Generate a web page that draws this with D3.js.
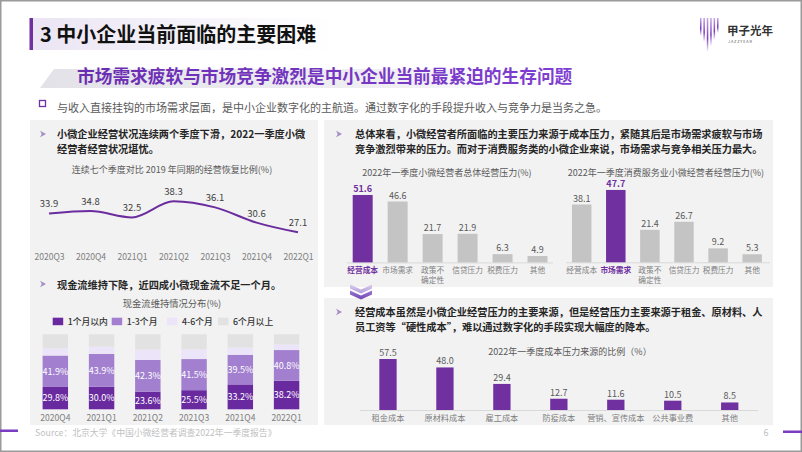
<!DOCTYPE html>
<html><head><meta charset="utf-8">
<script src="https://cdn.jsdelivr.net/npm/d3@7"></script>
<style>
html,body{margin:0;padding:0;background:#fff;}
svg{display:block;font-family:"Noto Sans CJK SC","Microsoft YaHei",sans-serif;}
</style></head><body>
<svg id="c" width="802" height="452"></svg>
<script>
// ---------- DATA ----------
const lineQuarters = ["2020Q3","2020Q4","2021Q1","2021Q2","2021Q3","2021Q4","2022Q1"];
const lineValues = [33.9,34.8,32.5,38.3,36.1,30.6,27.1];

const cashQuarters = ["2020Q4","2021Q1","2021Q2","2021Q3","2021Q4","2022Q1"];
const cashSeries = ["1个月以内","1-3个月","4-6个月","6个月以上"];
const cashWithin1 = [29.8,30.0,23.6,25.5,33.2,38.2];
const cash1to3 = [41.9,43.9,42.3,41.5,39.5,40.8];
const cash4to6 = [9.5,9.6,13.7,13.0,9.5,7.6];
const cashOver6 = [18.8,16.5,20.4,20.0,17.8,13.4];

const pressureCats = ["经营成本","市场需求","政策不\n确定性","信贷压力","税费压力","其他"];
const pressureOverall = [51.6,46.6,21.7,21.9,6.3,4.9];
const pressureConsumer = [38.1,47.7,21.4,26.7,9.2,5.3];
const overallHighlight = "经营成本";
const consumerHighlight = "市场需求";

const costCats = ["租金成本","原材料成本","雇工成本","防疫成本","营销、宣传成本","公共事业费","其他"];
const costValues = [57.5,48.0,29.4,12.7,11.6,10.5,8.5];

// ---------- SETUP ----------
const PURPLE = "#7030A0";
const svg = d3.select("#c");
const defs = svg.append("defs");
function lin(id, stops, attrs) {
  const g = defs.append("linearGradient").attr("id", id);
  Object.entries(attrs || {}).forEach(([k,v]) => g.attr(k, v));
  stops.forEach(s => g.append("stop").attr("offset", s[0]).attr("stop-color", s[1]).attr("stop-opacity", s[2] == null ? 1 : s[2]));
}
lin("titleBg", [["0%","#ebe5f4"],["100%","#ffffff"]]);
lin("subBand", [["0%","#e2e2e8"],["70%","#f1f1f4"],["100%","#ffffff",0]]);
lin("subText", [["0%","#6a2db0"],["100%","#7f3fd2"]], {gradientUnits:"userSpaceOnUse", x1:77, x2:573, y1:0, y2:0});
lin("logoLine", [["0%","#c9a6e8"],["60%","#7a3cc0"],["100%","#7a3cc0",0]], {x1:0,x2:0,y1:0,y2:1});
lin("chevTop", [["0%","#d9cdef"],["100%","#b29ad9"]], {x1:0,x2:0,y1:0,y2:1});
lin("chevBot", [["0%","#9a7bd0"],["100%","#6f45b5"]], {x1:0,x2:0,y1:0,y2:1});

function txt(parent, x, y, s, size, color, weight, anchor) {
  return parent.append("text").attr("x", x).attr("y", y).text(s)
    .attr("font-size", size).attr("fill", color)
    .attr("font-weight", weight || "normal").attr("text-anchor", anchor || "start");
}
function arrow(x, y) {
  svg.append("path").attr("d", `M${x},${y-3.2} L${x+6},${y} L${x},${y+3.2} L${x+1.8},${y} Z`).attr("fill", "#a38bc6");
}

// frame
svg.append("rect").attr("x",0).attr("y",0).attr("width",802).attr("height",452).attr("fill","#fff");
svg.append("rect").attr("x",0.75).attr("y",0.75).attr("width",800.5).attr("height",450.5)
  .attr("fill","none").attr("stroke","#9a9a9a").attr("stroke-width",1.5);

// ---------- HEADER ----------
svg.append("rect").attr("x",33).attr("y",18).attr("width",300).attr("height",32).attr("fill","url(#titleBg)");
svg.append("rect").attr("x",29.5).attr("y",18).attr("width",3.5).attr("height",32).attr("fill",PURPLE);
txt(svg, 40, 42, "3 中小企业当前面临的主要困难", 20, "#111", "bold");

svg.append("path").attr("d","M40,88 L54,69 L585,69 L572,88 Z").attr("fill","url(#subBand)");
txt(svg, 77, 83, "市场需求疲软与市场竞争激烈是中小企业当前最紧迫的生存问题", 17.7, "url(#subText)", "bold");

svg.append("rect").attr("x",39.5).attr("y",100.5).attr("width",6).attr("height",6).attr("fill","none").attr("stroke",PURPLE).attr("stroke-width",1.3);
txt(svg, 57, 112, "与收入直接挂钩的市场需求层面，是中小企业数字化的主航道。通过数字化的手段提升收入与竞争力是当务之急。", 11, "#595959");

// logo
const logoH = [18, 24, 34, 28, 22, 15];
logoH.forEach((h,i) => {
  svg.append("rect").attr("x", 700 + i*3.4).attr("y", 18).attr("width", 1.5).attr("height", h).attr("fill","url(#logoLine)");
});
txt(svg, 727, 35, "甲子光年", 11.5, "#333", "bold");
txt(svg, 728, 43, "J A Z Z Y E A R", 3.8, "#555");

// ---------- PANELS ----------
svg.append("rect").attr("x",30).attr("y",120).attr("width",288).attr("height",305).attr("fill","#f2f2f2");
svg.append("rect").attr("x",324).attr("y",120).attr("width",449).attr("height",167).attr("fill","#f2f2f2");
svg.append("rect").attr("x",324).attr("y",298).attr("width",449).attr("height",127).attr("fill","#f2f2f2");

// ---------- LEFT TOP: LINE ----------
arrow(40, 134);
txt(svg, 57, 138, "小微企业经营状况连续两个季度下滑，2022一季度小微", 10.2, "#262626", "bold");
txt(svg, 57, 153, "经营者经营状况堪忧。", 10.2, "#262626", "bold");
txt(svg, 172, 173, "连续七个季度对比 2019 年同期的经营恢复比例(%)", 9, "#595959", "normal", "middle");

const xL = d3.scalePoint().domain(lineQuarters).range([49, 298]);
const yL = d3.scaleLinear().domain([20, 40]).range([252, 196.6]);
svg.append("path").datum(lineValues)
  .attr("d", d3.line().x((d,i) => xL(lineQuarters[i])).y(d => yL(d)).curve(d3.curveMonotoneX))
  .attr("fill","none").attr("stroke","#6b2c9e").attr("stroke-width",2);
svg.append("g").selectAll("text").data(lineValues).join("text")
  .attr("x",(d,i)=>xL(lineQuarters[i])).attr("y",d=>yL(d)-6)
  .attr("text-anchor","middle").attr("font-size",9.5).attr("fill","#404040").text(d=>d.toFixed(1));
const axL = svg.append("g").attr("transform","translate(0,259.5)").call(d3.axisBottom(xL).tickSize(0))
  .attr("font-family",null).attr("font-size",null);
axL.select(".domain").remove();
axL.selectAll("text").attr("y",0).attr("dy",0).attr("font-size",8.6).attr("fill","#7f7f7f");

// ---------- LEFT BOTTOM: STACKED ----------
arrow(40, 284);
txt(svg, 57, 288.5, "现金流维持下降，近四成小微现金流不足一个月。", 10.2, "#262626", "bold");
txt(svg, 172, 307, "现金流维持情况分布(%)", 9.3, "#595959", "normal", "middle");

const cashColors = ["#6a2a9f", "#a280cf", "#ece4f8", "#e2e2e2"];
const legendX = [52.7, 111.7, 167, 218];
cashSeries.forEach((s,i) => {
  svg.append("rect").attr("x",legendX[i]).attr("y",317.7).attr("width",10.5).attr("height",7.5).attr("fill",cashColors[i]);
  txt(svg, legendX[i]+15, 325.3, s, 8.8, "#333", "500");
});

const cashTable = cashQuarters.map((q,i) => ({q, k0:cashWithin1[i], k1:cash1to3[i], k2:cash4to6[i], k3:cashOver6[i]}));
const cashKeys = ["k0","k1","k2","k3"];
const stacked = d3.stack().keys(cashKeys)(cashTable);
const xC = d3.scaleBand().domain(cashQuarters).range([32.2, 309.7]).paddingInner(0.45).paddingOuter(0.225);
const yC = d3.scaleLinear().domain([0,100]).range([409.3, 334.3]);
stacked.forEach((layer, li) => {
  const g = svg.append("g");
  g.selectAll("rect").data(layer).join("rect")
    .attr("x", d => xC(d.data.q)).attr("width", xC.bandwidth())
    .attr("y", d => yC(d[1])).attr("height", d => yC(d[0]) - yC(d[1]))
    .attr("fill", cashColors[li]);
  if (li < 2) {
    g.selectAll("text").data(layer).join("text")
      .attr("x", d => xC(d.data.q) + xC.bandwidth()/2)
      .attr("y", d => (yC(d[0]) + yC(d[1]))/2 + 3.3)
      .attr("text-anchor","middle").attr("font-size",9).attr("fill","#fff")
      .text(d => (d[1]-d[0]).toFixed(1) + "%");
  }
});
const axC = svg.append("g").attr("transform","translate(0,421)").call(d3.axisBottom(xC).tickSize(0))
  .attr("font-family",null).attr("font-size",null);
axC.select(".domain").remove();
axC.selectAll("text").attr("y",0).attr("dy",0).attr("font-size",8.6).attr("fill","#7f7f7f");

// ---------- RIGHT TOP: TWO BAR CHARTS ----------
arrow(336, 134);
txt(svg, 355, 138, "总体来看，小微经营者所面临的主要压力来源于成本压力，紧随其后是市场需求疲软与市场", 10.2, "#262626", "bold");
txt(svg, 355, 153, "竞争激烈带来的压力。而对于消费服务类的小微企业来说，市场需求与竞争相关压力最大。", 10.2, "#262626", "bold");

function pressureChart(values, highlight, title, titleX, range, yRange, axisLine) {
  txt(svg, titleX, 175.5, title, 9, "#595959", "normal", "middle");
  const x = d3.scaleBand().domain(pressureCats).range(range).paddingInner(0.4286).paddingOuter(0.2143);
  const y = d3.scaleLinear().domain([0,60]).range(yRange);
  svg.append("line").attr("x1",axisLine[0]).attr("x2",axisLine[1]).attr("y1",yRange[0]+0.5).attr("y2",yRange[0]+0.5)
    .attr("stroke","#d9d9d9").attr("stroke-width",1);
  const isH = c => c === highlight;
  svg.append("g").selectAll("rect").data(values).join("rect")
    .attr("x",(d,i)=>x(pressureCats[i])).attr("width",x.bandwidth())
    .attr("y",d=>y(d)).attr("height",d=>y(0)-y(d))
    .attr("fill",(d,i)=> isH(pressureCats[i]) ? PURPLE : "#c4c4c4");
  svg.append("g").selectAll("text").data(values).join("text")
    .attr("x",(d,i)=>x(pressureCats[i])+x.bandwidth()/2).attr("y",d=>y(d)-3)
    .attr("text-anchor","middle").attr("font-size",9)
    .attr("font-weight",(d,i)=> isH(pressureCats[i]) ? "bold" : "normal")
    .attr("fill",(d,i)=> isH(pressureCats[i]) ? PURPLE : "#595959")
    .text(d=>d.toFixed(1));
  const ax = svg.append("g").attr("transform",`translate(0,${yRange[0]+11})`).call(d3.axisBottom(x).tickSize(0).tickFormat(() => ""))
    .attr("font-family",null).attr("font-size",null);
  ax.select(".domain").remove();
  ax.selectAll(".tick text").each(function(c) {
    const t = d3.select(this).attr("y",0).attr("dy",0).attr("font-size",7.7)
      .attr("font-weight", isH(c) ? "bold" : "normal")
      .attr("fill", isH(c) ? PURPLE : "#7f7f7f");
    c.split("\n").forEach((part, k) => {
      t.append("tspan").attr("x",0).attr("dy", k === 0 ? 0 : "1.25em").text(part);
    });
  });
}
pressureChart(pressureOverall, overallHighlight, "2022年一季度小微经营者总体经营压力(%)", 447,
  [345.2, 555], [262.4, 184.0], [347, 553]);
pressureChart(pressureConsumer, consumerHighlight, "2022年一季度消费服务业小微经营者经营压力(%)", 666,
  [564.65, 769.25], [262.3, 171.3], [566, 770]);

// chevron
svg.append("path").attr("d","M350,284.5 L361,289.5 L372,284.5 L372,288.5 L361,293.5 L350,288.5 Z").attr("fill","url(#chevTop)");
svg.append("path").attr("d","M350,290.5 L361,295.5 L372,290.5 L372,294.5 L361,299.5 L350,294.5 Z").attr("fill","url(#chevBot)");

// ---------- RIGHT BOTTOM: COST ----------
arrow(336, 312);
txt(svg, 355, 316, "经营成本虽然是小微企业经营压力的主要来源，但是经营压力主要来源于租金、原材料、人", 10.2, "#262626", "bold");
txt(svg, 355, 331, "员工资等“硬性成本”，难以通过数字化的手段实现大幅度的降本。", 10.2, "#262626", "bold");
txt(svg, 570, 355, "2022年一季度成本压力来源的比例（%）", 9, "#595959", "normal", "middle");

const xK = d3.scaleBand().domain(costCats).range([359.5, 758.2]).paddingInner(0.696).paddingOuter(0.348);
const yK = d3.scaleLinear().domain([0,60]).range([410, 356.8]);
svg.append("line").attr("x1",360).attr("x2",758).attr("y1",410.5).attr("y2",410.5).attr("stroke","#d9d9d9");
svg.append("g").selectAll("rect").data(costValues).join("rect")
  .attr("x",(d,i)=>xK(costCats[i])).attr("width",xK.bandwidth())
  .attr("y",d=>yK(d)).attr("height",d=>yK(0)-yK(d)).attr("fill",PURPLE);
svg.append("g").selectAll("text").data(costValues).join("text")
  .attr("x",(d,i)=>xK(costCats[i])+xK.bandwidth()/2).attr("y",d=>yK(d)-3)
  .attr("text-anchor","middle").attr("font-size",9).attr("fill","#595959").text(d=>d.toFixed(1));
const axK = svg.append("g").attr("transform","translate(0,421)").call(d3.axisBottom(xK).tickSize(0))
  .attr("font-family",null).attr("font-size",null);
axK.select(".domain").remove();
axK.selectAll("text").attr("y",0).attr("dy",0).attr("font-size",8.2).attr("fill","#7f7f7f");

// ---------- FOOTER ----------
txt(svg, 35, 436, "Source：北京大学《中国小微经营者调查2022年一季度报告》", 8.8, "#bfbfbf");
txt(svg, 766, 436, "6", 9, "#bfbfbf", "normal", "middle");
svg.append("rect").attr("x",0).attr("y",429.5).attr("width",18).attr("height",2.5).attr("fill","#7a3cc0");
svg.append("rect").attr("x",783).attr("y",430.5).attr("width",19).attr("height",2.5).attr("fill","#7a3cc0");
</script>
</body></html>
